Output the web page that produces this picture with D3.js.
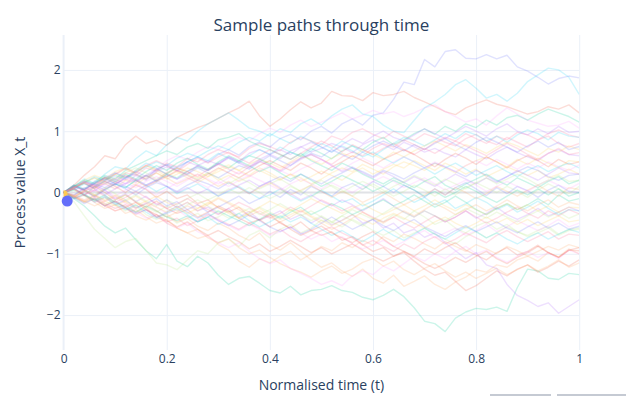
<!DOCTYPE html>
<html>
<head>
<meta charset="utf-8">
<script src="https://cdn.jsdelivr.net/npm/d3@7"></script>
<style>
  body { margin: 0; background: #fff; }
  svg { display: block; font-family: "Open Sans", verdana, arial, sans-serif; }
</style>
</head>
<body>
<svg id="chart" width="626" height="396"></svg>
<script>
// -----------------------------------------------------------------------------
// Data
// -----------------------------------------------------------------------------

var TITLE = "Sample paths through time";
var X_TITLE = "Normalised time (t)";
var Y_TITLE = "Process value X_t";

var timePoints = [0,
  0.02, 0.04, 0.06, 0.08, 0.10, 0.12, 0.14, 0.16, 0.18, 0.20,
  0.22, 0.24, 0.26, 0.28, 0.30, 0.32, 0.34, 0.36, 0.38, 0.40,
  0.42, 0.44, 0.46, 0.48, 0.50, 0.52, 0.54, 0.56, 0.58, 0.60,
  0.62, 0.64, 0.66, 0.68, 0.70, 0.72, 0.74, 0.76, 0.78, 0.80,
  0.82, 0.84, 0.86, 0.88, 0.90, 0.92, 0.94, 0.96, 0.98, 1.00];
var xTicks = [0, 0.2, 0.4, 0.6, 0.8, 1];
var yTicks = [-2, -1, 0, 1, 2];
var yRange = [-2.57, 2.57];

// current point of the animation and the start marker behind it
var markerPoint = {t: 0.007, v: -0.14};
var startPoint = {t: 0, v: -0.03};

// sample paths, values in hundredths of X_t at each time point
var VALUE_UNIT = 0.01;
var path00 = [0, 8,-5,10,18,12, 25,30,22,38,45, 36,50,58,49,62, 70,61,75,82,74, 88,95,86,100,108, 97,112,120,110,126, 130,152,180,176,217, 205,230,233,219,218, 225,218,224,205,198, 188,177,186,190,187];
var path01 = [0, 12,28,42,60,55, 78,92,80,85,77, 90,98,106,112,121, 130,138,149,125,108, 120,135,148,138,146, 165,158,157,150,163, 158,160,165,155,148, 140,132,127,138,145, 151,144,140,134,128, 132,140,136,143,130];
var path02 = [0, -10,-22,-38,-55,-66, -58,-77,-95,-108,-85, -112,-121,-104,-115,-135, -150,-140,-137,-148,-160, -164,-153,-167,-160,-158, -152,-160,-163,-171,-175, -168,-158,-170,-188,-210, -214,-227,-205,-195,-189, -191,-187,-194,-155,-125, -128,-140,-142,-132,-134];
var path03 = [0, 12,5,-8,4,-10, -2,-15,-6,-20,-12, -25,-16,-30,-24,-35, -26,-40,-31,-45,-38, -30,-44,-36,-50,-40, -53,-45,-36,-50,-44, -58,-50,-66,-60,-73, -66,-82,-95,-108,-98, -118,-124,-150,-168,-176, -186,-180,-197,-186,-175];
var path04 = [0, -8,-15,-5,-18,-26, -20,-32,-25,-40,-35, -48,-42,-55,-62,-50, -58,-70,-78,-66,-85, -94,-82,-96,-110,-122, -115,-128,-137,-125,-140, -148,-135,-153,-145,-136, -150,-158,-146,-138,-126, -130,-118,-122,-110,-104, -112,-98,-105,-92,-100];
var path05 = [0, 10,22,15,30,42, 38,55,68,60,78, 90,84,100,112,121, 130,118,105,100,92, 104,98,112,120,110, 125,136,143,128,124, 110,100,98,118,138, 148,160,176,184,170, 154,160,149,162,181, 192,203,200,188,160];
var path06 = [0, 6,18,10,25,20, 32,28,40,35,48, 42,55,50,62,70, 64,58,72,80,75, 68,82,90,84,78, 92,86,98,104,95, 88,100,92,85,96, 90,82,76,88,95, 84,78,90,82,74, 86,92,80,74,80];
var path07 = [0, -15,-38,-60,-75,-90, -80,-75,-95,-115,-118, -126,-110,-95,-100,-82, -75,-88,-70,-62,-74, -60,-52,-66,-58,-45, -50,-38,-46,-55,-42, -48,-36,-44,-30,-40, -52,-45,-58,-66,-55, -48,-60,-52,-64,-70, -62,-55,-68,-60,-58];
var path08 = [0, 10,4,18,12,26, 20,34,45,38,52, 60,54,66,75,70, 82,90,84,96,105, 98,110,118,108,115, 122,130,120,126,134, 128,132,124,130,138, 143,132,124,115,120, 110,125,138,128,118, 113,108,110,116,105];
var path09 = [0, 5,-4,8,15,6, 20,12,25,32,22, 30,40,34,26,38, 45,36,28,40,32, 22,30,18,26,35, 28,20,32,40,30, 38,46,40,52,44, 36,48,40,30,38, 26,34,42,35,28, 36,24,30,38,30];
var path10 = [0, -10,-4,-16,-8,-20, -12,-25,-18,-10,-22, -15,-28,-20,-32,-24, -15,-6,-18,-10,2, -8,5,-4,10,2, -6,8,15,5,18, 10,0,12,4,-8, 6,-4,8,16,6, -5,8,-2,10,3, -8,4,12,2,0];
var path11 = [0, 8,15,6,18,10, 0,12,5,-8,2, -10,-4,-18,-12,-25, -32,-24,-38,-45,-36, -50,-58,-48,-62,-70, -64,-78,-72,-85,-96, -90,-104,-98,-112,-125, -135,-130,-145,-160,-152, -140,-128,-136,-125,-118, -130,-122,-112,-120,-110];
var path12 = [0, 10,4,-6,5,14, 8,20,28,18,30, 24,35,42,36,48, 40,52,60,55,46, 58,66,60,72,64, 55,68,76,70,82, 90,78,86,96,104, 95,108,100,112,106, 118,110,122,126,118, 128,136,130,124,115];
var path13 = [0, -5,8,2,15,22, 14,28,20,34,42, 36,30,44,52,46, 58,50,64,70,62, 55,68,75,66,72, 80,74,65,78,86, 78,70,82,75,66, 72,64,58,70,62, 55,66,74,65,58, 52,64,70,62,60];
var path14 = [0, -6,-14,-8,-20,-30, -25,-38,-45,-36,-50, -58,-66,-75,-70,-85, -94,-112,-122,-108,-115, -104,-96,-110,-100,-88, -95,-82,-90,-78,-86, -72,-80,-68,-75,-84, -92,-80,-88,-96,-85, -92,-100,-88,-95,-104, -96,-88,-94,-85,-90];
var path15 = [0, 12,4,16,24,14, 8,20,12,2,10, -2,6,14,4,-6, 2,10,0,-10,-4, 6,-5,-14,-6,4, -6,-16,-10,-22,-14, -4,6,-6,-16,-8, -20,-12,-26,-18,-8, -16,-28,-20,-32,-24, -14,-26,-36,-28,-30];
var path16 = [0, -8,2,-6,6,14, 22,16,28,20,32, 40,34,26,38,46, 38,30,42,50,44, 36,48,56,62,54, 46,58,66,60,72, 80,74,86,78,70, 82,90,84,96,88, 80,92,86,98,94, 86,96,102,94,90];
var path17 = [0, 4,-6,-14,-8,-20, -30,-22,-36,-44,-38, -50,-42,-34,-46,-40, -30,-42,-34,-24,-32, -40,-28,-36,-46,-38, -48,-56,-44,-52,-62, -70,-62,-74,-66,-58, -68,-76,-84,-72,-64, -74,-66,-56,-64,-72, -66,-58,-70,-62,-60];
var path18 = [0, -6,4,-4,-14,-8, -18,-26,-16,-24,-34, -28,-40,-48,-38,-46, -54,-62,-52,-60,-70, -64,-56,-66,-76,-68, -80,-72,-84,-92,-86, -78,-88,-80,-70,-62, -74,-66,-58,-70,-62, -52,-64,-56,-46,-54, -62,-54,-44,-56,-50];
var path19 = [0, 8,16,10,22,30, 24,36,44,38,30, 40,34,24,32,20, 28,18,26,36,28, 20,30,24,14,22, 32,40,34,46,38, 30,42,50,44,36, 48,40,32,44,52, 58,50,42,54,46, 56,48,40,52,50];
var path20 = [0, 10,18,12,4,14, 6,-4,8,16,10, 2,12,20,14,6, 16,8,-2,10,18, 26,18,30,22,14, 24,32,40,34,26, 36,30,22,32,40, 48,42,34,26,36, 28,18,26,34,42, 36,26,20,28,30];
var path21 = [0, -8,2,10,0,-12, -4,-16,-24,-14,-26, -34,-28,-40,-32,-22, -30,-42,-50,-44,-56, -48,-60,-70,-62,-55, -66,-74,-82,-72,-64, -76,-88,-96,-104,-92, -100,-90,-82,-94,-102, -110,-98,-90,-102,-96, -86,-98,-106,-94,-90];
var path22 = [0, 12,6,18,28,22, 36,44,52,60,68, 62,74,80,72,86, 90,96,84,76,70, 62,54,64,52,44, 36,48,40,30,22, 14,24,16,8,18, 26,12,4,14,22, 30,20,12,24,16, 8,18,26,14,20];
var path23 = [0, 8,16,6,-4,6, 14,22,12,20,10, 0,8,-2,6,-6, 4,12,20,10,18, 8,-2,-12,-4,-14, -22,-12,-20,-30,-20, -10,-22,-32,-40,-30, -38,-48,-40,-30,-42, -34,-24,-36,-44,-36, -26,-38,-32,-24,-30];
var path24 = [0, -10,-4,-16,-26,-20, -34,-28,-40,-50,-44, -58,-66,-60,-74,-82, -76,-90,-100,-94,-106, -116,-124,-130,-138,-128, -120,-132,-125,-114,-108, -120,-112,-126,-134,-124, -116,-128,-138,-130,-140, -132,-124,-134,-126,-118, -128,-120,-110,-122,-115];
var path25 = [0, 6,16,26,20,32, 24,36,48,40,30, 42,50,58,52,64, 56,48,60,70,62, 74,66,58,68,80, 72,84,76,66,58, 70,80,90,84,76, 86,96,88,100,94, 84,92,82,94,102, 96,86,98,92,90];
var path26 = [0, -6,-16,-10,-22,-30, -24,-36,-28,-40,-48, -42,-54,-46,-36,-44, -52,-60,-50,-58,-68, -60,-72,-80,-70,-62, -56,-66,-74,-86,-78, -88,-96,-84,-92,-80, -72,-84,-76,-66,-74, -82,-70,-62,-72,-80, -72,-64,-76,-68,-70];
var path27 = [0, -6,4,-4,8,-2, -12,-4,-14,-22,-12, -20,-10,-2,-12,-4, 6,-2,8,0,-10, -2,10,2,-8,4, 12,4,-6,6,14, 4,-6,2,12,4, -6,6,-4,8,16, 8,0,10,2,-8, 4,14,6,-2,10];
var path28 = [0, -4,-12,-6,-18,-26, -20,-32,-42,-36,-50, -58,-50,-64,-72,-82, -90,-82,-96,-108,-116, -110,-124,-132,-140,-150, -144,-152,-136,-128,-134, -120,-128,-116,-104,-112, -100,-108,-96,-88,-100, -94,-106,-114,-104,-96, -106,-98,-108,-94,-100];
var path29 = [0, 10,20,28,22,34, 40,32,44,36,26, 34,24,16,26,34, 42,36,46,54,48, 40,50,60,54,46, 56,64,58,70,62, 54,66,58,68,76, 84,76,68,78,72, 64,74,82,76,68, 60,72,66,76,70];
var path30 = [0, -4,6,14,8,18, 10,2,12,20,28, 22,30,40,32,24, 34,44,38,50,60, 52,44,56,64,58, 70,62,54,66,76, 84,76,68,78,70, 80,88,78,70,82, 90,82,74,66,76, 84,74,82,70,75];
var path31 = [0, 10,4,14,24,16, 28,20,10,18,26, 36,28,20,30,40, 32,24,34,44,52, 44,36,48,40,30, 42,50,60,52,44, 54,62,70,62,52, 42,54,64,56,46, 58,50,40,52,60, 52,42,54,46,50];
var path32 = [0, 6,-4,-12,-4,-16, -24,-32,-22,-30,-40, -46,-38,-48,-40,-30, -38,-46,-54,-44,-34, -42,-32,-24,-36,-28, -18,-26,-36,-28,-20, -12,-22,-14,-4,-14, -24,-16,-6,-16,-28, -36,-26,-18,-28,-20, -10,-20,-4,-14,-10];
var path33 = [0, 8,18,12,22,14, 24,34,26,36,46, 40,50,44,36,48, 58,50,42,54,62, 70,62,74,82,74, 66,78,88,80,92, 100,90,84,94,104, 96,88,98,108,100, 92,104,112,100,94, 104,96,108,98,100];
var path34 = [0, 8,16,24,18,30, 38,30,22,32,24, 14,22,30,20,10, 18,8,-2,8,16, 6,-4,4,12,2, -8,2,-6,-16,-8, 0,-10,-20,-12,-4, 6,-4,8,0,-10, -2,10,2,-6,4, 12,2,-6,8,5];
var path35 = [0, 4,14,8,20,28, 22,34,42,50,44, 56,64,58,68,76, 70,82,90,84,96, 88,80,92,84,74, 66,76,68,58,66, 56,48,58,50,40, 30,40,48,38,28, 36,44,34,26,36, 44,34,42,48,40];
var path36 = [0, 6,-4,4,-6,-16, -8,2,-8,-18,-26, -18,-10,-20,-28,-36, -26,-16,-24,-34,-42, -34,-24,-32,-22,-12, -20,-30,-22,-32,-40, -48,-40,-50,-58,-48, -38,-48,-40,-30,-40, -50,-42,-32,-24,-34, -42,-30,-38,-28,-35];
var path37 = [0, -8,-16,-10,-20,-12, -4,-14,-24,-32,-22, -30,-20,-12,-22,-32, -42,-34,-26,-36,-28, -18,-28,-38,-30,-40, -48,-38,-28,-36,-44, -34,-24,-32,-40,-30, -38,-46,-36,-26,-34, -42,-32,-40,-48,-38, -30,-40,-32,-42,-35];
var path38 = [0, 10,2,12,4,-6, 4,14,6,-4,6, 16,24,16,8,18, 10,20,28,20,12, 4,14,22,14,6, 16,8,0,10,18, 26,18,8,16,24, 14,4,12,20,12, 2,10,18,10,2, 12,20,12,6,15];
var path39 = [0, -6,4,-4,-12,-4, -14,-22,-14,-6,-16, -24,-16,-26,-18,-8, -16,-24,-32,-24,-14, -22,-30,-20,-10,-18, -26,-34,-26,-18,-28, -36,-28,-20,-30,-22, -12,-22,-30,-20,-28, -36,-26,-18,-28,-20, -30,-22,-32,-24,-25];
var path40 = [0, -8,-18,-10,-22,-14, -26,-34,-28,-40,-32, -22,-32,-42,-34,-46, -54,-46,-36,-46,-56, -64,-56,-68,-60,-50, -40,-50,-60,-52,-44, -54,-62,-52,-44,-56, -64,-72,-62,-54,-64, -56,-48,-58,-66,-56, -48,-58,-50,-60,-55];
var path41 = [0, 6,-4,-12,-22,-14, -24,-16,-28,-36,-46, -56,-48,-60,-70,-62, -72,-80,-92,-84,-96, -88,-78,-88,-98,-90, -100,-92,-84,-94,-104, -112,-104,-96,-106,-116, -124,-116,-106,-114,-104, -96,-108,-116,-106,-98, -88,-98,-106,-94,-95];
var path42 = [0, 10,20,14,26,18, 30,22,34,44,36, 48,56,46,38,50, 60,52,44,34,42, 32,22,30,20,10, 18,28,20,12,2, 10,20,12,4,-6, 2,-8,0,10,2, -8,-16,-6,4,-4, 6,-4,6,-6,0];
var path43 = [0, 10,4,16,24,32, 26,18,28,38,30, 22,34,44,36,46, 56,48,40,52,44, 34,44,54,62,54, 44,34,42,32,24, 34,26,16,26,18, 10,20,30,22,14, 24,16,26,36,28, 20,30,40,32,30];
var path44 = [0, -6,-14,-22,-14,-6, -16,-26,-18,-30,-40, -32,-22,-30,-20,-10, -18,-28,-38,-30,-40, -48,-40,-30,-40,-50, -60,-52,-42,-32,-42, -50,-40,-30,-38,-28, -18,-26,-36,-28,-20, -30,-22,-12,-22,-30, -20,-12,-24,-16,-20];
var path45 = [0, -10,-2,-14,-6,-18, -28,-20,-32,-42,-34, -26,-36,-48,-40,-52, -44,-34,-46,-56,-48, -38,-48,-40,-50,-60, -70,-62,-72,-80,-70, -60,-70,-78,-68,-58, -68,-76,-66,-56,-64, -74,-66,-76,-84,-74, -66,-76,-68,-60,-65];
var path46 = [0, 8,16,8,20,30, 40,32,44,52,44, 34,46,56,48,58, 66,56,48,60,70, 62,54,64,74,84, 76,66,78,70,62, 72,80,70,62,72, 64,74,84,76,68, 60,70,80,72,62, 54,64,72,62,65];
var path47 = [0, 8,16,24,14,24, 32,40,32,22,32, 40,30,22,32,24, 14,24,16,6,14, 22,12,2,12,20, 10,0,10,18,10, 0,10,18,28,20, 12,22,14,6,16, 24,14,22,30,22, 12,20,28,18,20];
var path48 = [0, 6,-4,4,14,6, 16,8,18,26,18, 10,20,30,22,14, 24,34,26,36,44, 36,28,38,46,54, 44,36,48,56,48, 40,50,58,50,40, 50,42,34,44,52, 44,54,46,38,48, 40,50,42,36,45];
var path49 = [0, -4,-12,-4,-14,-22, -14,-6,-16,-24,-32, -24,-34,-26,-16,-24, -34,-42,-34,-26,-36, -44,-36,-28,-38,-46, -54,-46,-36,-44,-52, -42,-34,-42,-50,-58, -48,-40,-50,-58,-50, -40,-50,-42,-52,-44, -54,-46,-38,-48,-45];

var samplePaths = [
  path00, path01, path02, path03, path04, path05, path06, path07, path08, path09,
  path10, path11, path12, path13, path14, path15, path16, path17, path18, path19,
  path20, path21, path22, path23, path24, path25, path26, path27, path28, path29,
  path30, path31, path32, path33, path34, path35, path36, path37, path38, path39,
  path40, path41, path42, path43, path44, path45, path46, path47, path48, path49
];

var themeColors = [
  "#636efa", "#EF553B", "#00cc96", "#ab63fa", "#FFA15A",
  "#19d3f3", "#FF6692", "#B6E880", "#FF97FF", "#FECB52"
];

// -----------------------------------------------------------------------------
// Layout
// -----------------------------------------------------------------------------

var plot = {left: 63.6, right: 579.2, top: 35, bottom: 350};
var textColor = "#2a3f5f";
var gridColor = "#ebf0f8";

var xScale = d3.scaleLinear()
    .domain([0, 1])
    .range([plot.left, plot.right]);

var yScale = d3.scaleLinear()
    .domain(yRange)
    .range([plot.bottom, plot.top]);

var svg = d3.select("#chart");

svg.append("defs").append("clipPath")
    .attr("id", "plot-clip")
  .append("rect")
    .attr("x", plot.left)
    .attr("y", plot.top)
    .attr("width", plot.right - plot.left)
    .attr("height", plot.bottom - plot.top);

// grid
svg.append("g")
    .attr("class", "grid")
    .attr("transform", "translate(0," + plot.bottom + ")")
    .call(d3.axisBottom(xScale)
        .tickValues(xTicks.filter(function(d) { return d !== 0; }))
        .tickSize(-(plot.bottom - plot.top))
        .tickFormat(""));

svg.append("g")
    .attr("class", "grid")
    .attr("transform", "translate(" + plot.left + ",0)")
    .call(d3.axisLeft(yScale)
        .tickValues(yTicks.filter(function(d) { return d !== 0; }))
        .tickSize(-(plot.right - plot.left))
        .tickFormat(""));

svg.selectAll(".grid .domain").remove();
svg.selectAll(".grid line")
    .attr("stroke", gridColor)
    .attr("stroke-width", 1);

// zero lines
svg.append("line")
    .attr("x1", xScale(0)).attr("x2", xScale(0))
    .attr("y1", plot.top).attr("y2", plot.bottom)
    .attr("stroke", gridColor)
    .attr("stroke-width", 2);

svg.append("line")
    .attr("x1", plot.left).attr("x2", plot.right)
    .attr("y1", yScale(0)).attr("y2", yScale(0))
    .attr("stroke", "#e0e2e6")
    .attr("stroke-width", 2);

// paths
var line = d3.line()
    .x(function(d, i) { return xScale(timePoints[i]); })
    .y(function(d) { return yScale(d * VALUE_UNIT); });

var traces = svg.append("g")
    .attr("clip-path", "url(#plot-clip)");

traces.selectAll("path")
    .data(samplePaths)
  .enter().append("path")
    .attr("d", line)
    .attr("fill", "none")
    .attr("stroke", function(d, i) { return themeColors[i % themeColors.length]; })
    .attr("stroke-width", 1.4)
    .attr("stroke-opacity", 0.2)
    .attr("stroke-linejoin", "round");

traces.append("circle")
    .attr("cx", xScale(startPoint.t))
    .attr("cy", yScale(startPoint.v))
    .attr("r", 4)
    .attr("fill", "#FECB52");

// the animated point is drawn unclipped
svg.append("circle")
    .attr("cx", xScale(markerPoint.t))
    .attr("cy", yScale(markerPoint.v))
    .attr("r", 5.5)
    .attr("fill", "#636efa");

// tick labels
svg.append("g")
    .attr("transform", "translate(0," + plot.bottom + ")")
    .call(d3.axisBottom(xScale)
        .tickValues(xTicks)
        .tickSize(0)
        .tickPadding(4.5)
        .tickFormat(d3.format("~g")));

svg.append("g")
    .attr("transform", "translate(" + plot.left + ",0)")
    .call(d3.axisLeft(yScale)
        .tickValues(yTicks)
        .tickSize(0)
        .tickPadding(3)
        .tickFormat(function(d) { return d < 0 ? "\u2212" + Math.abs(d) : d; }));

svg.selectAll(".domain").remove();
svg.selectAll(".tick text")
    .attr("font-family", "\"Open Sans\", verdana, arial, sans-serif")
    .attr("font-size", 12)
    .attr("fill", textColor);

// titles
svg.append("text")
    .attr("x", (plot.left + plot.right) / 2)
    .attr("y", 31)
    .attr("text-anchor", "middle")
    .attr("font-size", 17)
    .attr("fill", textColor)
    .text(TITLE);

svg.append("text")
    .attr("x", (plot.left + plot.right) / 2)
    .attr("y", 390)
    .attr("text-anchor", "middle")
    .attr("font-size", 14)
    .attr("fill", textColor)
    .text(X_TITLE);

svg.append("text")
    .attr("transform", "translate(25," + yScale(0) + ") rotate(-90)")
    .attr("text-anchor", "middle")
    .attr("font-size", 14)
    .attr("fill", textColor)
    .text(Y_TITLE);

// cropped button edges at the bottom right
svg.append("rect")
    .attr("x", 490).attr("y", 394)
    .attr("width", 61).attr("height", 2)
    .attr("fill", "#c5cad3");

svg.append("rect")
    .attr("x", 557).attr("y", 394)
    .attr("width", 69).attr("height", 2)
    .attr("fill", "#c5cad3");
</script>
</body>
</html>
